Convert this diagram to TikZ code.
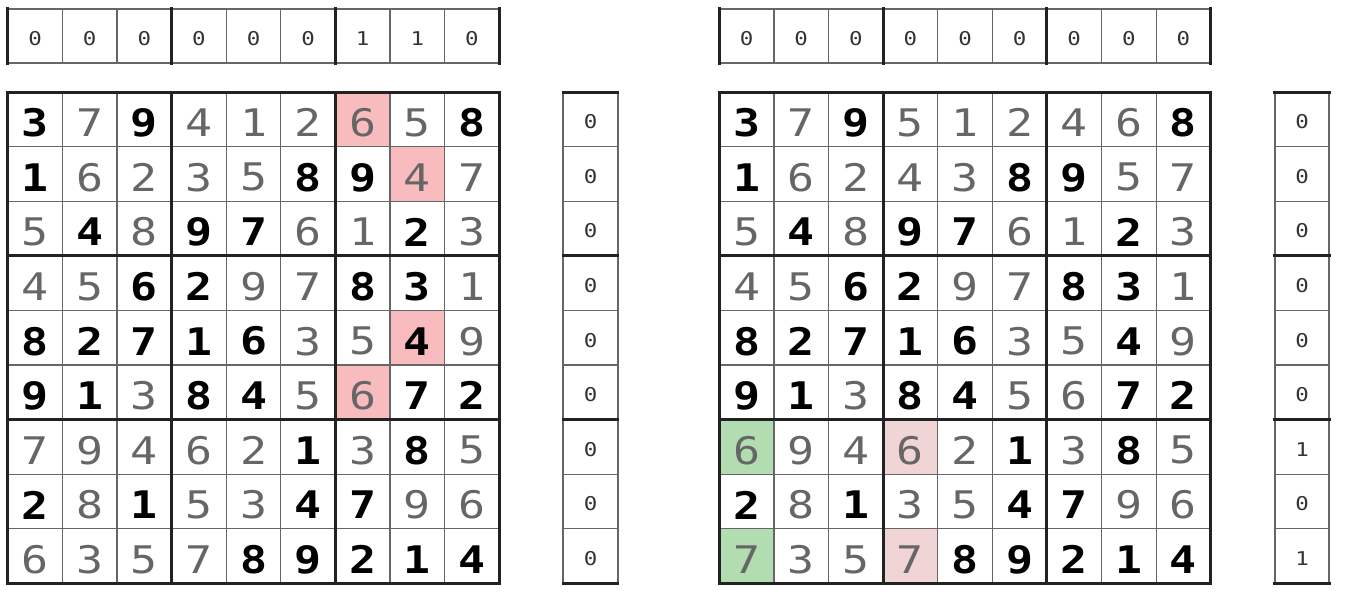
\documentclass[tikz,border=0pt]{standalone}
\usepackage{fontspec}
\newfontfamily\digitfont[FakeStretch=1.18]{DejaVu Sans Mono}
\usetikzlibrary{positioning}

\definecolor{digitgray}{HTML}{666666}
\definecolor{countcol}{HTML}{333333}
\definecolor{linegray}{HTML}{666666}
\definecolor{linedark}{HTML}{222222}
\definecolor{hlpink}{HTML}{F9BCBE}
\definecolor{hlgreen}{HTML}{B1DDB1}
\definecolor{hlrose}{HTML}{F0D4D6}

\def\cs{54.6}

% #1 name, #2 x of the grid, #3 highlights, #4 rows, #5 top counts, #6 side counts
\newcommand\sudokupanel[6]{%
\begin{scope}[shift={(#2,92)}]
  \foreach \r/\c/\col in {#3}
    \fill[\col] ({(\c-1)*\cs},{(\r-1)*\cs}) rectangle ({\c*\cs},{\r*\cs});
  \foreach \row [count=\r] in {#4} {
    \foreach \v/\g [count=\c] in \row
      \node[cell, g\g] (#1-\r-\c) at ({(\c-0.5)*\cs},{(\r-0.5)*\cs+3.5}) {\v};
  }
  \foreach \i in {1,2,4,5,7,8} {
    \draw[thinline] ({\i*\cs},0) -- ({\i*\cs},{9*\cs});
    \draw[thinline] (0,{\i*\cs}) -- ({9*\cs},{\i*\cs});
  }
  \foreach \i in {0,3,6,9} {
    \draw[thickline] ({\i*\cs},0) -- ({\i*\cs},{9*\cs});
    \draw[thickline] (0,{\i*\cs}) -- ({9*\cs},{\i*\cs});
  }
%--- top counts
  \foreach \n [count=\c] in {#5}
    \node[count] (#1-top-\c) at ({(\c-0.5)*\cs},{-83.5+\cs/2+2.5}) {\n};
  \draw[stripedge] (0,-83.5) -- ({9*\cs},-83.5)
                   (0,{-83.5+\cs}) -- ({9*\cs},{-83.5+\cs});
  \foreach \i in {1,2,4,5,7,8}
    \draw[thinline] ({\i*\cs},-83.5) -- ({\i*\cs},{-83.5+\cs});
  \foreach \i in {0,3,6,9}
    \draw[thickline] ({\i*\cs},-83.5) -- ({\i*\cs},{-83.5+\cs});
%--- side counts
  \foreach \n [count=\r] in {#6}
    \node[count] (#1-side-\r) at ({555.5+\cs/2},{(\r-0.5)*\cs+2.5}) {\n};
  \draw[stripedge] (555.5,0) -- (555.5,{9*\cs})
                   ({555.5+\cs},0) -- ({555.5+\cs},{9*\cs});
  \foreach \i in {1,2,4,5,7,8}
    \draw[thinline] (555.5,{\i*\cs}) -- ({555.5+\cs},{\i*\cs});
  \foreach \i in {0,3,6,9}
    \draw[thickline] (555.5,{\i*\cs}) -- ({555.5+\cs},{\i*\cs});
\end{scope}}

\begin{document}
\begin{tikzpicture}[x=1pt, y=-1pt,
cell/.style = {inner sep=0pt, text=digitgray,
               font=\digitfont\fontsize{38}{38}\selectfont},
g0/.style = {},
g1/.style = {text=black, font=\digitfont\bfseries\fontsize{38}{38}\selectfont},
count/.style = {inner sep=0pt, text=countcol,
                font=\digitfont\fontsize{19}{19}\selectfont},
thinline/.style = {draw=linegray, line width=1.2pt},
thickline/.style = {draw=linedark, line width=3pt, line cap=rect},
stripedge/.style = {draw=linegray, line width=2pt},
                    ]
\useasboundingbox (0,0) rectangle (1345,597);

\sudokupanel{L}{7.8}
  {1/7/hlpink, 2/8/hlpink, 5/8/hlpink, 6/7/hlpink}
  {{3/1,7/0,9/1,4/0,1/0,2/0,6/0,5/0,8/1},
   {1/1,6/0,2/0,3/0,5/0,8/1,9/1,4/0,7/0},
   {5/0,4/1,8/0,9/1,7/1,6/0,1/0,2/1,3/0},
   {4/0,5/0,6/1,2/1,9/0,7/0,8/1,3/1,1/0},
   {8/1,2/1,7/1,1/1,6/1,3/0,5/0,4/1,9/0},
   {9/1,1/1,3/0,8/1,4/1,5/0,6/0,7/1,2/1},
   {7/0,9/0,4/0,6/0,2/0,1/1,3/0,8/1,5/0},
   {2/1,8/0,1/1,5/0,3/0,4/1,7/1,9/0,6/0},
   {6/0,3/0,5/0,7/0,8/1,9/1,2/1,1/1,4/1}}
  {0,0,0,0,0,0,1,1,0}
  {0,0,0,0,0,0,0,0,0}

\sudokupanel{R}{719.3}
  {7/1/hlgreen, 9/1/hlgreen, 7/4/hlrose, 9/4/hlrose}
  {{3/1,7/0,9/1,5/0,1/0,2/0,4/0,6/0,8/1},
   {1/1,6/0,2/0,4/0,3/0,8/1,9/1,5/0,7/0},
   {5/0,4/1,8/0,9/1,7/1,6/0,1/0,2/1,3/0},
   {4/0,5/0,6/1,2/1,9/0,7/0,8/1,3/1,1/0},
   {8/1,2/1,7/1,1/1,6/1,3/0,5/0,4/1,9/0},
   {9/1,1/1,3/0,8/1,4/1,5/0,6/0,7/1,2/1},
   {6/0,9/0,4/0,6/0,2/0,1/1,3/0,8/1,5/0},
   {2/1,8/0,1/1,3/0,5/0,4/1,7/1,9/0,6/0},
   {7/0,3/0,5/0,7/0,8/1,9/1,2/1,1/1,4/1}}
  {0,0,0,0,0,0,0,0,0}
  {0,0,0,0,0,0,1,0,1}
\end{tikzpicture}
\end{document}
